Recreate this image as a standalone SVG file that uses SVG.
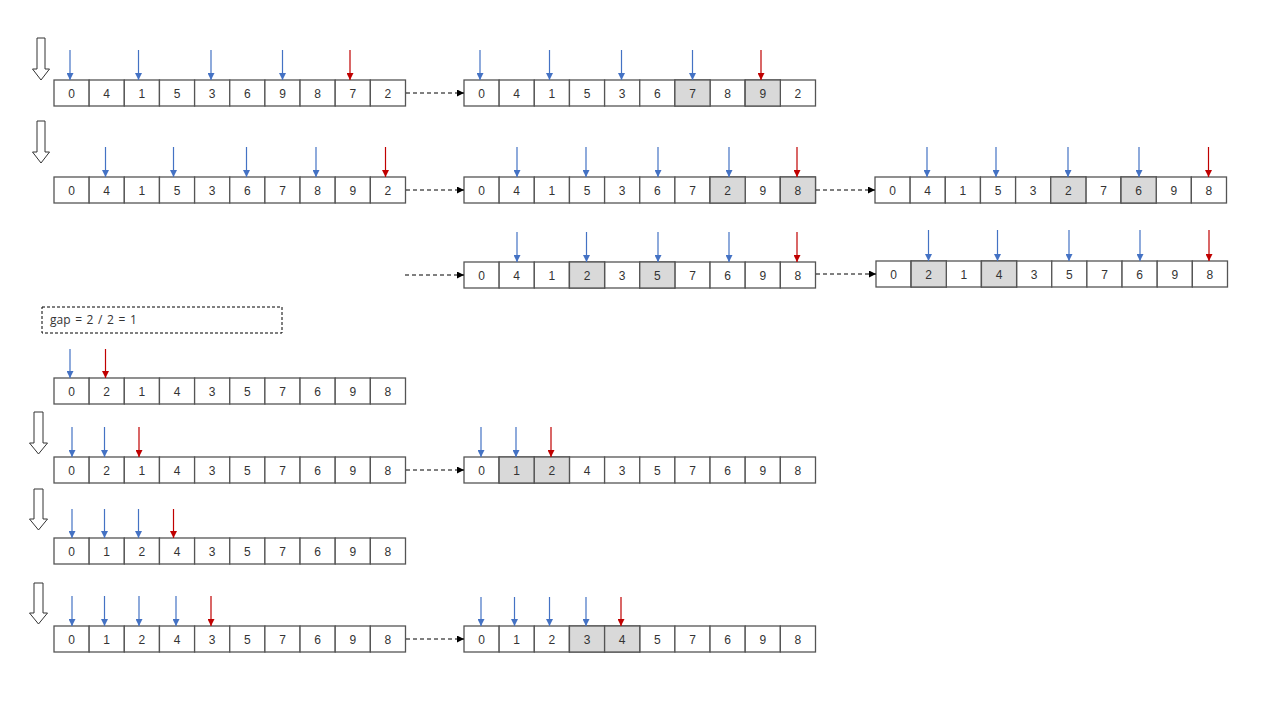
<svg xmlns="http://www.w3.org/2000/svg" width="1280" height="720" viewBox="0 0 1280 720">
<defs>
<style>
.c{fill:#fff;stroke:#555;stroke-width:1.3}
.s{fill:#d9d9d9;stroke:#555;stroke-width:1.3}
.t{font-family:"Liberation Sans",Arial,sans-serif;font-size:12px;fill:#333;text-anchor:middle}
.b{stroke:#4472C4;stroke-width:1.2;fill:none;marker-end:url(#mb)}
.r{stroke:#C00000;stroke-width:1.2;fill:none;marker-end:url(#mr)}
.d{stroke:#000;stroke-width:1;stroke-dasharray:4,3;fill:none;marker-end:url(#mk)}
.big{fill:#fff;stroke:#333;stroke-width:1}
</style>
<marker id="mb" viewBox="0 0 8 8" refX="8" refY="4" markerWidth="8" markerHeight="7" orient="auto" markerUnits="userSpaceOnUse"><path d="M0,0 L8,4 L0,8 z" fill="#4472C4"/></marker>
<marker id="mr" viewBox="0 0 8 8" refX="8" refY="4" markerWidth="8" markerHeight="7" orient="auto" markerUnits="userSpaceOnUse"><path d="M0,0 L8,4 L0,8 z" fill="#C00000"/></marker>
<marker id="mk" viewBox="0 0 8 8" refX="8" refY="4" markerWidth="8" markerHeight="7" orient="auto" markerUnits="userSpaceOnUse"><path d="M0,0 L8,4 L0,8 z" fill="#000"/></marker>
<g id="row">
<rect class="c" x="0" y="0" width="35.15" height="26"/><rect class="c" x="35.15" y="0" width="35.15" height="26"/><rect class="c" x="70.3" y="0" width="35.15" height="26"/><rect class="c" x="105.45" y="0" width="35.15" height="26"/><rect class="c" x="140.6" y="0" width="35.15" height="26"/><rect class="c" x="175.75" y="0" width="35.15" height="26"/><rect class="c" x="210.9" y="0" width="35.15" height="26"/><rect class="c" x="246.05" y="0" width="35.15" height="26"/><rect class="c" x="281.2" y="0" width="35.15" height="26"/><rect class="c" x="316.35" y="0" width="35.15" height="26"/>
</g>
</defs>
<rect width="1280" height="720" fill="#fff"/>

<g id="bigarrows">
<polygon class="big" points="37,38 45,38 45,69 49.5,69 41,80 32.5,69 37,69"/>
<polygon class="big" points="37,121 45,121 45,152 49.5,152 41,163 32.5,152 37,152"/>
<polygon class="big" points="34,412 43,412 43,443 47.5,443 38.5,454 29.5,443 34,443"/>
<polygon class="big" points="34,489 43,489 43,519 47.5,519 38.5,530 29.5,519 34,519"/>
<polygon class="big" points="34,583 43,583 43,613 47.5,613 38.5,624 29.5,613 34,613"/>
</g>

<g id="gapnote">
<rect x="42" y="307" width="240" height="26" fill="none" stroke="#000" stroke-width="1" stroke-dasharray="3,2"/>
<text x="50" y="324" font-family="Open Sans, Liberation Sans, Arial, sans-serif" font-size="12" word-spacing="1.5" fill="#333">gap = 2 / 2 = 1</text>
</g>

<g id="a1" transform="translate(54,80)">
<use href="#row"/>
<text class="t" y="17.5"><tspan x="17.6">0</tspan><tspan x="52.7">4</tspan><tspan x="87.9">1</tspan><tspan x="123">5</tspan><tspan x="158.2">3</tspan><tspan x="193.3">6</tspan><tspan x="228.5">9</tspan><tspan x="263.6">8</tspan><tspan x="298.8">7</tspan><tspan x="333.9">2</tspan></text>
</g>
<g id="a2" transform="translate(464,80)">
<use href="#row"/>
<rect class="s" x="210.9" y="0" width="35.15" height="26"/><rect class="s" x="281.2" y="0" width="35.15" height="26"/>
<text class="t" y="17.5"><tspan x="17.6">0</tspan><tspan x="52.7">4</tspan><tspan x="87.9">1</tspan><tspan x="123">5</tspan><tspan x="158.2">3</tspan><tspan x="193.3">6</tspan><tspan x="228.5">7</tspan><tspan x="263.6">8</tspan><tspan x="298.8">9</tspan><tspan x="333.9">2</tspan></text>
</g>
<g id="b1" transform="translate(54,177)">
<use href="#row"/>
<text class="t" y="17.5"><tspan x="17.6">0</tspan><tspan x="52.7">4</tspan><tspan x="87.9">1</tspan><tspan x="123">5</tspan><tspan x="158.2">3</tspan><tspan x="193.3">6</tspan><tspan x="228.5">7</tspan><tspan x="263.6">8</tspan><tspan x="298.8">9</tspan><tspan x="333.9">2</tspan></text>
</g>
<g id="b2" transform="translate(464,177)">
<use href="#row"/>
<rect class="s" x="246.05" y="0" width="35.15" height="26"/><rect class="s" x="316.35" y="0" width="35.15" height="26"/>
<text class="t" y="17.5"><tspan x="17.6">0</tspan><tspan x="52.7">4</tspan><tspan x="87.9">1</tspan><tspan x="123">5</tspan><tspan x="158.2">3</tspan><tspan x="193.3">6</tspan><tspan x="228.5">7</tspan><tspan x="263.6">2</tspan><tspan x="298.8">9</tspan><tspan x="333.9">8</tspan></text>
</g>
<g id="b3" transform="translate(875,177)">
<use href="#row"/>
<rect class="s" x="175.75" y="0" width="35.15" height="26"/><rect class="s" x="246.05" y="0" width="35.15" height="26"/>
<text class="t" y="17.5"><tspan x="17.6">0</tspan><tspan x="52.7">4</tspan><tspan x="87.9">1</tspan><tspan x="123">5</tspan><tspan x="158.2">3</tspan><tspan x="193.3">2</tspan><tspan x="228.5">7</tspan><tspan x="263.6">6</tspan><tspan x="298.8">9</tspan><tspan x="333.9">8</tspan></text>
</g>
<g id="c1" transform="translate(464,262)">
<use href="#row"/>
<rect class="s" x="105.45" y="0" width="35.15" height="26"/><rect class="s" x="175.75" y="0" width="35.15" height="26"/>
<text class="t" y="17.5"><tspan x="17.6">0</tspan><tspan x="52.7">4</tspan><tspan x="87.9">1</tspan><tspan x="123">2</tspan><tspan x="158.2">3</tspan><tspan x="193.3">5</tspan><tspan x="228.5">7</tspan><tspan x="263.6">6</tspan><tspan x="298.8">9</tspan><tspan x="333.9">8</tspan></text>
</g>
<g id="c2" transform="translate(876,261)">
<use href="#row"/>
<rect class="s" x="35.15" y="0" width="35.15" height="26"/><rect class="s" x="105.45" y="0" width="35.15" height="26"/>
<text class="t" y="17.5"><tspan x="17.6">0</tspan><tspan x="52.7">2</tspan><tspan x="87.9">1</tspan><tspan x="123">4</tspan><tspan x="158.2">3</tspan><tspan x="193.3">5</tspan><tspan x="228.5">7</tspan><tspan x="263.6">6</tspan><tspan x="298.8">9</tspan><tspan x="333.9">8</tspan></text>
</g>
<g id="d1" transform="translate(54,378)">
<use href="#row"/>
<text class="t" y="17.5"><tspan x="17.6">0</tspan><tspan x="52.7">2</tspan><tspan x="87.9">1</tspan><tspan x="123">4</tspan><tspan x="158.2">3</tspan><tspan x="193.3">5</tspan><tspan x="228.5">7</tspan><tspan x="263.6">6</tspan><tspan x="298.8">9</tspan><tspan x="333.9">8</tspan></text>
</g>
<g id="e1" transform="translate(54,457)">
<use href="#row"/>
<text class="t" y="17.5"><tspan x="17.6">0</tspan><tspan x="52.7">2</tspan><tspan x="87.9">1</tspan><tspan x="123">4</tspan><tspan x="158.2">3</tspan><tspan x="193.3">5</tspan><tspan x="228.5">7</tspan><tspan x="263.6">6</tspan><tspan x="298.8">9</tspan><tspan x="333.9">8</tspan></text>
</g>
<g id="e2" transform="translate(464,457)">
<use href="#row"/>
<rect class="s" x="35.15" y="0" width="35.15" height="26"/><rect class="s" x="70.3" y="0" width="35.15" height="26"/>
<text class="t" y="17.5"><tspan x="17.6">0</tspan><tspan x="52.7">1</tspan><tspan x="87.9">2</tspan><tspan x="123">4</tspan><tspan x="158.2">3</tspan><tspan x="193.3">5</tspan><tspan x="228.5">7</tspan><tspan x="263.6">6</tspan><tspan x="298.8">9</tspan><tspan x="333.9">8</tspan></text>
</g>
<g id="f1" transform="translate(54,538)">
<use href="#row"/>
<text class="t" y="17.5"><tspan x="17.6">0</tspan><tspan x="52.7">1</tspan><tspan x="87.9">2</tspan><tspan x="123">4</tspan><tspan x="158.2">3</tspan><tspan x="193.3">5</tspan><tspan x="228.5">7</tspan><tspan x="263.6">6</tspan><tspan x="298.8">9</tspan><tspan x="333.9">8</tspan></text>
</g>
<g id="g1" transform="translate(54,626)">
<use href="#row"/>
<text class="t" y="17.5"><tspan x="17.6">0</tspan><tspan x="52.7">1</tspan><tspan x="87.9">2</tspan><tspan x="123">4</tspan><tspan x="158.2">3</tspan><tspan x="193.3">5</tspan><tspan x="228.5">7</tspan><tspan x="263.6">6</tspan><tspan x="298.8">9</tspan><tspan x="333.9">8</tspan></text>
</g>
<g id="g2" transform="translate(464,626)">
<use href="#row"/>
<rect class="s" x="105.45" y="0" width="35.15" height="26"/><rect class="s" x="140.6" y="0" width="35.15" height="26"/>
<text class="t" y="17.5"><tspan x="17.6">0</tspan><tspan x="52.7">1</tspan><tspan x="87.9">2</tspan><tspan x="123">3</tspan><tspan x="158.2">4</tspan><tspan x="193.3">5</tspan><tspan x="228.5">7</tspan><tspan x="263.6">6</tspan><tspan x="298.8">9</tspan><tspan x="333.9">8</tspan></text>
</g>

<g id="pointers">
<line class="b" x1="70" y1="50" x2="70" y2="80"/><line class="b" x1="138.5" y1="50" x2="138.5" y2="80"/><line class="b" x1="211" y1="50" x2="211" y2="80"/><line class="b" x1="282.5" y1="50" x2="282.5" y2="80"/><line class="r" x1="350" y1="50" x2="350" y2="80"/>
<line class="b" x1="480" y1="50" x2="480" y2="80"/><line class="b" x1="549.5" y1="50" x2="549.5" y2="80"/><line class="b" x1="621.5" y1="50" x2="621.5" y2="80"/><line class="b" x1="692.5" y1="50" x2="692.5" y2="80"/><line class="r" x1="761" y1="50" x2="761" y2="80"/>
<line class="b" x1="105.5" y1="147" x2="105.5" y2="177"/><line class="b" x1="173.5" y1="147" x2="173.5" y2="177"/><line class="b" x1="246.5" y1="147" x2="246.5" y2="177"/><line class="b" x1="316" y1="147" x2="316" y2="177"/><line class="r" x1="385.5" y1="147" x2="385.5" y2="177"/>
<line class="b" x1="517" y1="147" x2="517" y2="177"/><line class="b" x1="586" y1="147" x2="586" y2="177"/><line class="b" x1="658" y1="147" x2="658" y2="177"/><line class="b" x1="729" y1="147" x2="729" y2="177"/><line class="r" x1="797" y1="147" x2="797" y2="177"/>
<line class="b" x1="927" y1="147" x2="927" y2="177"/><line class="b" x1="996" y1="147" x2="996" y2="177"/><line class="b" x1="1068" y1="147" x2="1068" y2="177"/><line class="b" x1="1139" y1="147" x2="1139" y2="177"/><line class="r" x1="1208.5" y1="147" x2="1208.5" y2="177"/>
<line class="b" x1="517" y1="232" x2="517" y2="262"/><line class="b" x1="586.5" y1="232" x2="586.5" y2="262"/><line class="b" x1="658" y1="232" x2="658" y2="262"/><line class="b" x1="729" y1="232" x2="729" y2="262"/><line class="r" x1="797" y1="232" x2="797" y2="262"/>
<line class="b" x1="928.5" y1="230" x2="928.5" y2="261"/><line class="b" x1="997.5" y1="230" x2="997.5" y2="261"/><line class="b" x1="1069" y1="230" x2="1069" y2="261"/><line class="b" x1="1140" y1="230" x2="1140" y2="261"/><line class="r" x1="1209" y1="230" x2="1209" y2="261"/>
<line class="b" x1="70" y1="349" x2="70" y2="378"/><line class="r" x1="105.5" y1="349" x2="105.5" y2="378"/>
<line class="b" x1="72" y1="427" x2="72" y2="457"/><line class="b" x1="104.5" y1="427" x2="104.5" y2="457"/><line class="r" x1="139" y1="427" x2="139" y2="457"/>
<line class="b" x1="481" y1="427" x2="481" y2="457"/><line class="b" x1="516" y1="427" x2="516" y2="457"/><line class="r" x1="551" y1="427" x2="551" y2="457"/>
<line class="b" x1="72" y1="509" x2="72" y2="538"/><line class="b" x1="104.5" y1="509" x2="104.5" y2="538"/><line class="b" x1="138.5" y1="509" x2="138.5" y2="538"/><line class="r" x1="173.5" y1="509" x2="173.5" y2="538"/>
<line class="b" x1="72" y1="596" x2="72" y2="626"/><line class="b" x1="104.5" y1="596" x2="104.5" y2="626"/><line class="b" x1="139" y1="596" x2="139" y2="626"/><line class="b" x1="176" y1="596" x2="176" y2="626"/><line class="r" x1="211" y1="596" x2="211" y2="626"/>
<line class="b" x1="481" y1="597" x2="481" y2="626"/><line class="b" x1="514.5" y1="597" x2="514.5" y2="626"/><line class="b" x1="549.5" y1="597" x2="549.5" y2="626"/><line class="b" x1="586" y1="597" x2="586" y2="626"/><line class="r" x1="621" y1="597" x2="621" y2="626"/>
</g>

<g id="connectors">
<line class="d" x1="406" y1="93" x2="464" y2="93"/>
<line class="d" x1="406" y1="190" x2="464" y2="190"/>
<line class="d" x1="816" y1="190" x2="875" y2="190"/>
<line class="d" x1="405" y1="275" x2="464" y2="275"/>
<line class="d" x1="816" y1="274" x2="876" y2="274"/>
<line class="d" x1="406" y1="470" x2="464" y2="470"/>
<line class="d" x1="406" y1="639" x2="464" y2="639"/>
</g>
</svg>
